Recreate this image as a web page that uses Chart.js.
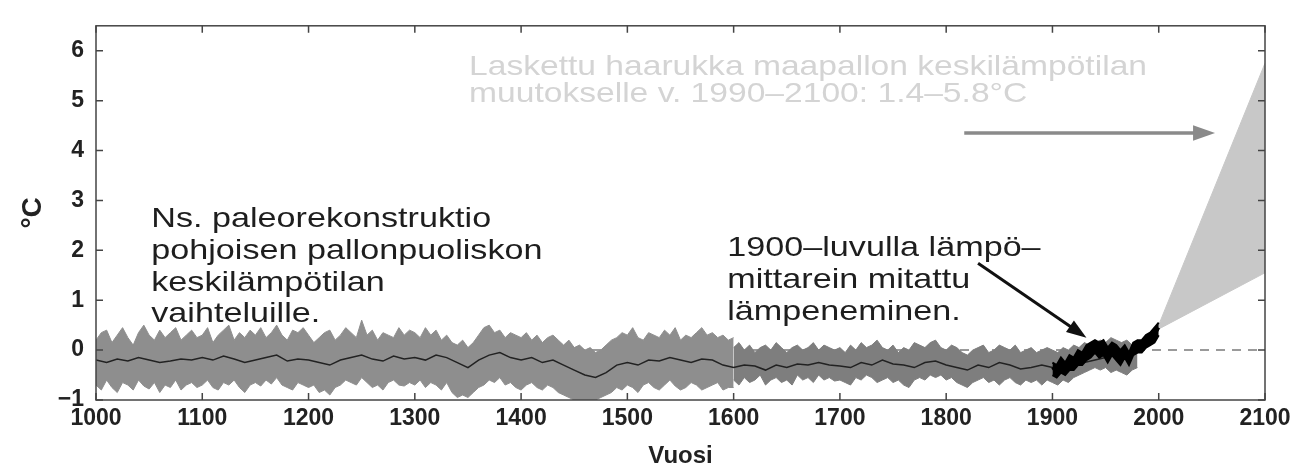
<!DOCTYPE html>
<html>
<head>
<meta charset="utf-8">
<script src="https://cdn.jsdelivr.net/npm/chart.js@4.4.1/dist/chart.umd.min.js"></script>
<style>
  html, body { margin: 0; padding: 0; background: #fff; }
  #wrap { width: 1302px; height: 473px; }
</style>
</head>
<body>
<div id="wrap"><canvas id="paleoChart"></canvas></div>
<script>
// Paleo reconstruction band, 1000-1600 (wide uncertainty), 5-year steps
const yearsA = [1000,1005,1010,1015,1020,1025,1030,1035,1040,1045,1050,1055,1060,1065,1070,1075,1080,1085,1090,1095,
                1100,1105,1110,1115,1120,1125,1130,1135,1140,1145,1150,1155,1160,1165,1170,1175,1180,1185,1190,1195,
                1200,1205,1210,1215,1220,1225,1230,1235,1240,1245,1250,1255,1260,1265,1270,1275,1280,1285,1290,1295,
                1300,1305,1310,1315,1320,1325,1330,1335,1340,1345,1350,1355,1360,1365,1370,1375,1380,1385,1390,1395,
                1400,1405,1410,1415,1420,1425,1430,1435,1440,1445,1450,1455,1460,1465,1470,1475,1480,1485,1490,1495,
                1500,1505,1510,1515,1520,1525,1530,1535,1540,1545,1550,1555,1560,1565,1570,1575,1580,1585,1590,1595,1600];
const upperA = [0.2,0.35,0.4,0.15,0.3,0.45,0.25,0.1,0.35,0.5,0.3,0.2,0.4,0.25,0.35,0.45,0.2,0.3,0.4,0.25,
                0.3,0.45,0.15,0.3,0.4,0.5,0.2,0.35,0.25,0.4,0.3,0.45,0.25,0.35,0.5,0.3,0.2,0.4,0.35,0.45,
                0.3,0.15,0.25,0.35,0.4,0.2,0.3,0.45,0.35,0.25,0.6,0.3,0.4,0.2,0.35,0.3,0.25,0.45,0.3,0.4,
                0.35,0.25,0.45,0.3,0.4,0.2,0.3,0.15,0.1,0.2,0.05,0.15,0.3,0.45,0.5,0.35,0.4,0.25,0.35,0.3,
                0.25,0.35,0.2,0.3,0.15,0.25,0.3,0.2,0.1,0.2,0.05,0.1,0.0,0.05,-0.05,0.0,0.1,0.2,0.25,0.35,
                0.3,0.45,0.25,0.2,0.35,0.3,0.25,0.4,0.3,0.45,0.2,0.3,0.25,0.35,0.45,0.3,0.35,0.25,0.3,0.2,0.25];
const lowerA = [-0.7,-0.8,-0.6,-0.75,-0.85,-0.65,-0.7,-0.8,-0.6,-0.72,-0.78,-0.65,-0.85,-0.7,-0.75,-0.6,-0.8,-0.7,-0.65,-0.75,
                -0.7,-0.6,-0.75,-0.8,-0.65,-0.7,-0.6,-0.75,-0.85,-0.7,-0.65,-0.72,-0.6,-0.68,-0.55,-0.7,-0.75,-0.8,-0.65,-0.7,
                -0.75,-0.7,-0.85,-0.8,-0.9,-0.75,-0.7,-0.6,-0.65,-0.7,-0.55,-0.65,-0.75,-0.7,-0.8,-0.65,-0.6,-0.7,-0.72,-0.65,
                -0.7,-0.6,-0.75,-0.65,-0.7,-0.8,-0.65,-0.85,-0.95,-0.9,-0.95,-0.85,-0.75,-0.7,-0.6,-0.65,-0.55,-0.7,-0.65,-0.75,
                -0.8,-0.7,-0.65,-0.75,-0.8,-0.7,-0.75,-0.85,-0.9,-0.95,-1.0,-1.0,-1.0,-1.0,-1.0,-0.95,-0.9,-0.85,-0.75,-0.8,
                -0.7,-0.75,-0.85,-0.7,-0.65,-0.75,-0.8,-0.7,-0.6,-0.72,-0.8,-0.75,-0.65,-0.7,-0.8,-0.75,-0.7,-0.65,-0.8,-0.75,-0.75];

// Narrower band, 1600-1980, 5-year steps
const yearsB = [1600,1605,1610,1615,1620,1625,1630,1635,1640,1645,1650,1655,1660,1665,1670,1675,1680,1685,1690,1695,
                1700,1705,1710,1715,1720,1725,1730,1735,1740,1745,1750,1755,1760,1765,1770,1775,1780,1785,1790,1795,
                1800,1805,1810,1815,1820,1825,1830,1835,1840,1845,1850,1855,1860,1865,1870,1875,1880,1885,1890,1895,
                1900,1905,1910,1915,1920,1925,1930,1935,1940,1945,1950,1955,1960,1965,1970,1975,1980];
const upperB = [0.05,0.15,0.0,0.1,-0.05,0.05,0.1,0.0,0.15,0.05,-0.05,0.05,0.1,0.0,0.05,0.15,0.0,0.1,0.05,0.0,
                0.05,-0.05,0.1,0.0,0.15,0.05,0.1,0.2,0.05,0.0,0.1,-0.05,0.05,0.0,0.15,0.1,0.05,0.15,0.2,0.05,
                0.0,0.1,0.05,-0.05,-0.1,0.0,0.05,0.1,-0.05,0.0,0.1,0.05,0.0,0.1,-0.05,0.0,0.05,-0.05,0.0,0.05,
                0.0,-0.05,0.05,0.0,0.1,0.05,0.15,0.1,0.15,0.2,0.15,0.25,0.2,0.15,0.2,0.1,0.2];
const lowerB = [-0.6,-0.7,-0.55,-0.65,-0.6,-0.5,-0.7,-0.6,-0.55,-0.65,-0.6,-0.7,-0.5,-0.6,-0.55,-0.65,-0.5,-0.6,-0.55,-0.62,
                -0.6,-0.65,-0.7,-0.55,-0.6,-0.5,-0.55,-0.65,-0.6,-0.55,-0.65,-0.6,-0.7,-0.75,-0.6,-0.55,-0.6,-0.5,-0.55,-0.5,
                -0.6,-0.55,-0.65,-0.7,-0.75,-0.65,-0.6,-0.55,-0.65,-0.6,-0.7,-0.6,-0.55,-0.65,-0.7,-0.6,-0.65,-0.6,-0.7,-0.6,
                -0.65,-0.7,-0.6,-0.65,-0.55,-0.5,-0.45,-0.4,-0.35,-0.4,-0.35,-0.45,-0.4,-0.45,-0.5,-0.4,-0.35];

// Smoothed reconstruction (black line), 10-year steps
const centerYears = [1000,1010,1020,1030,1040,1050,1060,1070,1080,1090,
                     1100,1110,1120,1130,1140,1150,1160,1170,1180,1190,
                     1200,1210,1220,1230,1240,1250,1260,1270,1280,1290,
                     1300,1310,1320,1330,1340,1350,1360,1370,1380,1390,
                     1400,1410,1420,1430,1440,1450,1460,1470,1480,1490,
                     1500,1510,1520,1530,1540,1550,1560,1570,1580,1590,
                     1600,1610,1620,1630,1640,1650,1660,1670,1680,1690,
                     1700,1710,1720,1730,1740,1750,1760,1770,1780,1790,
                     1800,1810,1820,1830,1840,1850,1860,1870,1880,1890,
                     1900,1910,1920,1930,1940,1950,1960,1970,1980];
const centerVals = [-0.2,-0.25,-0.18,-0.22,-0.15,-0.2,-0.25,-0.22,-0.18,-0.2,
                    -0.15,-0.2,-0.12,-0.18,-0.25,-0.2,-0.15,-0.1,-0.22,-0.18,
                    -0.2,-0.25,-0.3,-0.2,-0.15,-0.1,-0.18,-0.22,-0.12,-0.18,
                    -0.15,-0.2,-0.1,-0.15,-0.25,-0.35,-0.2,-0.1,-0.05,-0.15,
                    -0.2,-0.15,-0.25,-0.2,-0.3,-0.4,-0.5,-0.55,-0.45,-0.3,
                    -0.25,-0.3,-0.2,-0.22,-0.15,-0.2,-0.25,-0.18,-0.2,-0.3,
                    -0.35,-0.3,-0.32,-0.4,-0.3,-0.35,-0.28,-0.3,-0.25,-0.3,
                    -0.32,-0.35,-0.25,-0.3,-0.2,-0.28,-0.3,-0.35,-0.25,-0.22,
                    -0.3,-0.35,-0.4,-0.3,-0.35,-0.25,-0.3,-0.38,-0.35,-0.3,
                    -0.35,-0.4,-0.3,-0.25,-0.2,-0.15,-0.1,-0.15,-0.05];

// Thermometer record 1900-2000
const instYears = [1900,1904,1908,1912,1916,1920,1924,1928,1932,1936,1940,1944,1948,
                   1952,1956,1960,1964,1968,1972,1976,1980,1984,1988,1992,1996,2000];
const instVals = [-0.35,-0.45,-0.3,-0.4,-0.25,-0.3,-0.15,-0.2,-0.05,0.0,0.1,0.0,0.05,
                  -0.1,0.05,-0.05,-0.15,0.0,-0.2,0.05,0.1,0.05,0.2,0.25,0.3,0.45];
const instHigh = [-0.25,-0.3,-0.15,-0.25,-0.1,-0.15,0.0,-0.05,0.1,0.15,0.2,0.15,0.2,
                  0.05,0.15,0.1,0.0,0.1,-0.05,0.15,0.2,0.2,0.3,0.35,0.45,0.55];
const instLow = [-0.5,-0.55,-0.45,-0.5,-0.4,-0.4,-0.3,-0.3,-0.2,-0.15,-0.05,-0.15,-0.1,
                 -0.25,-0.1,-0.2,-0.3,-0.15,-0.3,-0.1,-0.05,-0.05,0.05,0.1,0.15,0.3];

// Projected range 2000-2100
const projYears = [1998, 2100];
const projLow = [0.4, 1.55];
const projHigh = [0.4, 5.75];

const zeroYears = [1000, 2100];

// Annotations (anchored in data units: year, degrees)
const paleoNote = ['Ns. paleorekonstruktio', 'pohjoisen pallonpuoliskon', 'keskilämpötilan', 'vaihteluille.'];
const paleoAt = [1052, 2.46];
const instNote = ['1900\u2013luvulla lämpö\u2013', 'mittarein mitattu', 'lämpeneminen.'];
const instAt = [1594, 1.88];
const projNote = ['Laskettu haarukka maapallon keskilämpötilan', 'muutokselle v. 1990\u20132100: 1.4\u20135.8°C'];
const projAt = [1351, 5.51];
const instArrow = [[1830, 1.74], [1932, 0.25]];
const projArrow = [[1817, 4.35], [2053, 4.35]];

const yTicks = [-1, 0, 1, 2, 3, 4, 5, 6];

function pts(xs, ys) {
    return xs.map((x, i) => ({ x: x, y: ys[i] }));
}

function stretchText(ctx, text, px, py, sx) {
    ctx.save();
    ctx.translate(px, py);
    ctx.scale(sx, 1);
    ctx.fillText(text, 0, 0);
    ctx.restore();
}

function drawArrow(ctx, x1, y1, x2, y2, color, width, head) {
    const ang = Math.atan2(y2 - y1, x2 - x1);
    ctx.save();
    ctx.strokeStyle = color;
    ctx.fillStyle = color;
    ctx.lineWidth = width;
    ctx.beginPath();
    ctx.moveTo(x1, y1);
    ctx.lineTo(x2 - Math.cos(ang) * head * 0.8, y2 - Math.sin(ang) * head * 0.8);
    ctx.stroke();
    ctx.beginPath();
    ctx.moveTo(x2, y2);
    ctx.lineTo(x2 - head * Math.cos(ang) + head * 0.35 * Math.sin(ang), y2 - head * Math.sin(ang) - head * 0.35 * Math.cos(ang));
    ctx.lineTo(x2 - head * Math.cos(ang) - head * 0.35 * Math.sin(ang), y2 - head * Math.sin(ang) + head * 0.35 * Math.cos(ang));
    ctx.closePath();
    ctx.fill();
    ctx.restore();
}

const notesPlugin = {
    id: 'notes',
    afterDraw(chart) {
        const { ctx, chartArea: a, scales: { x, y } } = chart;
        ctx.save();

        // frame and inward ticks
        ctx.strokeStyle = '#444';
        ctx.lineWidth = 1.5;
        ctx.strokeRect(a.left, a.top, a.right - a.left, a.bottom - a.top);
        ctx.beginPath();
        yTicks.forEach(v => {
            const py = y.getPixelForValue(v);
            ctx.moveTo(a.left, py); ctx.lineTo(a.left + 7, py);
            ctx.moveTo(a.right, py); ctx.lineTo(a.right - 7, py);
        });
        for (let v = 1000; v <= 2100; v += 100) {
            const px = x.getPixelForValue(v);
            ctx.moveTo(px, a.bottom); ctx.lineTo(px, a.bottom - 7);
            ctx.moveTo(px, a.top); ctx.lineTo(px, a.top + 7);
        }
        ctx.stroke();

        ctx.font = '28px "Liberation Sans", Arial, sans-serif';
        ctx.textBaseline = 'alphabetic';
        ctx.textAlign = 'left';

        ctx.fillStyle = '#1e1e1e';
        paleoNote.forEach((t, i) => {
            stretchText(ctx, t, x.getPixelForValue(paleoAt[0]), y.getPixelForValue(paleoAt[1]) + i * 31.6, 1.22);
        });
        instNote.forEach((t, i) => {
            stretchText(ctx, t, x.getPixelForValue(instAt[0]), y.getPixelForValue(instAt[1]) + i * 31.6, 1.22);
        });

        ctx.fillStyle = '#d4d4d4';
        projNote.forEach((t, i) => {
            stretchText(ctx, t, x.getPixelForValue(projAt[0]), y.getPixelForValue(projAt[1]) + i * 27, 1.2);
        });

        drawArrow(ctx,
            x.getPixelForValue(instArrow[0][0]), y.getPixelForValue(instArrow[0][1]),
            x.getPixelForValue(instArrow[1][0]), y.getPixelForValue(instArrow[1][1]),
            '#111', 3, 20);
        drawArrow(ctx,
            x.getPixelForValue(projArrow[0][0]), y.getPixelForValue(projArrow[0][1]),
            x.getPixelForValue(projArrow[1][0]), y.getPixelForValue(projArrow[1][1]),
            '#8a8a8a', 3.5, 22);

        ctx.restore();
    }
};

const base = { pointRadius: 0, tension: 0, borderWidth: 1 };

new Chart(document.getElementById('paleoChart'), {
    type: 'line',
    data: {
        datasets: [
            Object.assign({}, base, { data: pts(instYears, instVals), borderColor: '#000', borderWidth: 3, fill: false }),
            Object.assign({}, base, { data: pts(instYears, instHigh), borderColor: '#000', backgroundColor: '#000', borderWidth: 2, fill: 2 }),
            Object.assign({}, base, { data: pts(instYears, instLow), borderColor: '#000', borderWidth: 2, fill: false }),
            Object.assign({}, base, { data: pts(centerYears, centerVals), borderColor: '#222', borderWidth: 1.5, fill: false }),
            Object.assign({}, base, { data: pts(yearsB, upperB), borderColor: '#7e7e7e', backgroundColor: '#7e7e7e', fill: 5 }),
            Object.assign({}, base, { data: pts(yearsB, lowerB), borderColor: '#7e7e7e', fill: false }),
            Object.assign({}, base, { data: pts(yearsA, upperA), borderColor: '#8e8e8e', backgroundColor: '#8e8e8e', fill: 7 }),
            Object.assign({}, base, { data: pts(yearsA, lowerA), borderColor: '#8e8e8e', fill: false }),
            Object.assign({}, base, { data: pts(projYears, projHigh), borderColor: '#c8c8c8', backgroundColor: '#c8c8c8', fill: 9 }),
            Object.assign({}, base, { data: pts(projYears, projLow), borderColor: '#c8c8c8', fill: false }),
            Object.assign({}, base, { data: pts(zeroYears, [0, 0]), borderColor: '#7a7a7a', borderWidth: 1.5, borderDash: [9, 7], fill: false })
        ]
    },
    options: {
        responsive: true,
        maintainAspectRatio: false,
        animation: false,
        layout: { padding: { left: 0, top: 13, right: 37, bottom: 0 } },
        plugins: { legend: { display: false }, tooltip: { enabled: false } },
        scales: {
            x: {
                type: 'linear',
                min: 1000,
                max: 2100,
                afterFit: s => { s.height = 73; },
                grid: { display: false, drawTicks: false },
                border: { display: false },
                ticks: {
                    stepSize: 100,
                    padding: 5,
                    color: '#222',
                    font: { family: '"Liberation Sans", Arial, sans-serif', size: 23, weight: 'bold' },
                    callback: v => String(v)
                },
                title: {
                    display: true,
                    text: 'Vuosi',
                    color: '#222',
                    padding: { top: 0, bottom: 2 },
                    font: { family: '"Liberation Sans", Arial, sans-serif', size: 24, weight: 'bold' }
                }
            },
            y: {
                min: -1,
                max: 6.5,
                afterFit: s => { s.width = 96; },
                afterBuildTicks: s => { s.ticks = yTicks.map(v => ({ value: v })); },
                grid: { display: false, drawTicks: false },
                border: { display: false },
                ticks: {
                    padding: 12,
                    color: '#222',
                    font: { family: '"Liberation Sans", Arial, sans-serif', size: 23, weight: 'bold' },
                    callback: v => v < 0 ? '\u22121' : String(v)
                },
                title: {
                    display: true,
                    text: '°C',
                    color: '#222',
                    padding: { top: 16, bottom: 0 },
                    font: { family: '"Liberation Sans", Arial, sans-serif', size: 28, weight: 'bold' }
                }
            }
        }
    },
    plugins: [notesPlugin]
});
</script>
</body>
</html>
